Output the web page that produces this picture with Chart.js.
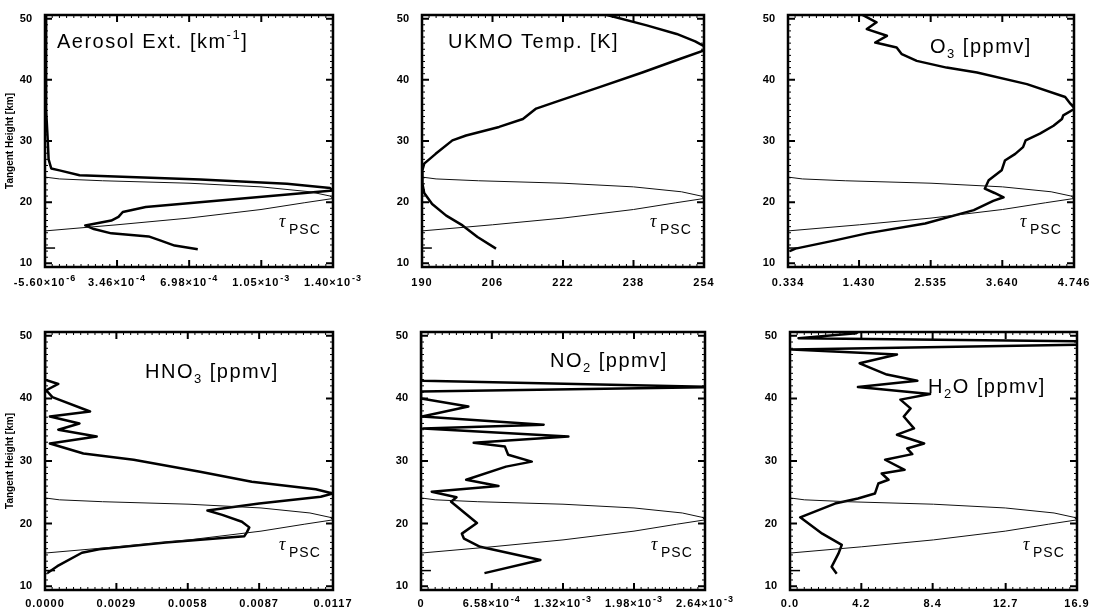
<!DOCTYPE html>
<html>
<head>
<meta charset="utf-8">
<script src="https://cdn.jsdelivr.net/npm/chart.js@4.4.1/dist/chart.umd.min.js"></script>
<style>
  body { margin: 0; width: 1095px; height: 612px; background: #fff; overflow: hidden; position: relative; }
  canvas { position: absolute; }
</style>
</head>
<body>
<canvas id="aerosol"></canvas>
<canvas id="temp"></canvas>
<canvas id="o3"></canvas>
<canvas id="hno3"></canvas>
<canvas id="no2"></canvas>
<canvas id="h2o"></canvas>
<script>
const heightTicks = [10, 20, 30, 40, 50];

// tau_PSC curve, as a fraction of each panel's x range
const tauHeights = [24.1, 23.8, 23.5, 23.1, 22.5, 21.7, 21.0, 20.6, 19.9, 18.8, 17.4, 16.3, 15.3];
const tauFraction = [0.0, 0.05, 0.2, 0.5, 0.75, 0.92, 0.99, 1.0, 0.9, 0.75, 0.5, 0.25, 0.0];
const markHeights = [12.5, 12.5];
const markFraction = [0.0, 0.035];

const aerosolHeights = [50.6, 45, 40, 35, 30, 27, 25.5, 25.2, 24.4, 23.7, 23.0, 22.3, 21.9, 19.2, 18.4, 17.6, 17.0, 16.2, 15.6, 14.9, 14.4, 13.75, 12.9, 12.3];
const aerosolValues = [0, 0, 0, 0, 8e-6, 1.2e-5, 2.5e-5, 6.5e-5, 1.63e-4, 7.53e-4, 1.175e-3, 1.386e-3, 1.40e-3, 4.86e-4, 3.74e-4, 3.53e-4, 3.18e-4, 1.91e-4, 2.33e-4, 3.18e-4, 5.0e-4, 5.56e-4, 6.27e-4, 7.4e-4];
const aerosolTicks = [-5.6e-6, 3.46e-4, 6.98e-4, 1.05e-3, 1.40e-3];
const aerosolTickLabels = ['-5.60×10^-6', '3.46×10^-4', '6.98×10^-4', '1.05×10^-3', '1.40×10^-3'];

const tempHeights = [51.0, 50.6, 48.9, 47.5, 46.3, 45.5, 44.8, 43.4, 41.2, 38.8, 36.6, 35.3, 33.6, 32.3, 30.9, 30.1, 27.9, 26.3, 25.0, 23.0, 21.5, 19.7, 17.8, 16.2, 14.3, 12.4];
const tempValues = [230, 232, 241, 247.8, 252, 254, 254, 248.5, 240, 230.3, 221.2, 215.9, 212.9, 207.5, 200, 196.9, 193.1, 190.5, 190, 190.1, 190.5, 192.3, 195.5, 199.2, 202.6, 206.8];
const tempTicks = [190, 206, 222, 238, 254];
const tempTickLabels = ['190', '206', '222', '238', '254'];

const o3Heights = [51.0, 50.8, 49.4, 48.3, 47.2, 46.1, 45.3, 44.2, 43.1, 42.0, 41.2, 39.3, 37.2, 36.1, 35.3, 34.2, 33.6, 32.5, 31.2, 30.1, 29.0, 27.9, 26.8, 25.2, 23.6, 22.2, 21.5, 20.8, 20.2, 18.7, 16.5, 14.9, 13.75, 12.4, 12.0];
const o3Values = [1.35, 1.45, 1.70, 1.55, 1.86, 1.68, 2.01, 2.09, 2.32, 2.78, 3.25, 4.02, 4.61, 4.69, 4.76, 4.58, 4.56, 4.43, 4.22, 4.00, 3.96, 3.84, 3.68, 3.63, 3.43, 3.37, 3.52, 3.66, 3.50, 3.20, 2.45, 1.55, 1.06, 0.45, 0.36];
const o3Ticks = [0.334, 1.430, 2.535, 3.640, 4.746];
const o3TickLabels = ['0.334', '1.430', '2.535', '3.640', '4.746'];

const hno3Heights = [50.6, 43.0, 42.3, 41.3, 40.2, 37.9, 37.1, 36.0, 35.0, 33.9, 32.8, 31.2, 30.2, 28.3, 26.7, 25.5, 24.8, 24.3, 23.2, 22.1, 21.4, 20.3, 19.4, 18.6, 18.0, 17.0, 15.9, 15.35, 13.2, 12.1];
const hno3Values = [0, 0, 0.00054, 0.00005, 0.0003, 0.00183, 0.0002, 0.0014, 0.00054, 0.0021, 0.0002, 0.00156, 0.0036, 0.0063, 0.0084, 0.0110, 0.0117, 0.0112, 0.0087, 0.0066, 0.0072, 0.0080, 0.0083, 0.0082, 0.0081, 0.0049, 0.0022, 0.0015, 0.0005, 0.0001];
const hno3Ticks = [0, 0.0029, 0.0058, 0.0087, 0.0117];
const hno3TickLabels = ['0.0000', '0.0029', '0.0058', '0.0087', '0.0117'];

const no2Heights = [50.6, 43.0, 42.8, 41.8, 41.1, 40.0, 38.7, 37.1, 35.8, 35.2, 33.9, 32.9, 32.3, 31.0, 29.9, 29.1, 27.0, 26.0, 25.1, 24.2, 23.5, 20.1, 18.4, 17.6, 16.3, 14.2, 12.1];
const no2Values = [0, 0, 0.00002, 0.0028, 0, 0, 0.00044, 0.00001, 0.00114, 0.00002, 0.00137, 0.00049, 0.00078, 0.00081, 0.00103, 0.00079, 0.00042, 0.00072, 0.0001, 0.00033, 0.00028, 0.00052, 0.00038, 0.0004, 0.00055, 0.00111, 0.00059];
const no2Ticks = [0, 0.000658, 0.00132, 0.00198, 0.00264];
const no2TickLabels = ['0', '6.58×10^-4', '1.32×10^-3', '1.98×10^-3', '2.64×10^-3'];

const h2oHeights = [51.0, 50.4, 49.6, 49.1, 48.6, 47.8, 47.0, 45.6, 43.8, 42.8, 41.8, 40.7, 39.8, 38.4, 37.1, 35.2, 34.2, 32.8, 32.0, 31.1, 30.2, 28.6, 28.0, 27.0, 26.4, 24.8, 24.0, 23.2, 21.0, 18.4, 16.6, 15.2, 13.1, 12.0];
const h2oValues = [4.2, 3.9, 0.5, 17.5, 17.5, 0.1, 6.3, 4.1, 5.7, 7.5, 4.0, 8.25, 6.5, 7.1, 6.7, 7.3, 6.3, 7.9, 6.9, 7.2, 5.6, 6.75, 5.4, 5.8, 5.2, 5.0, 4.0, 2.65, 0.6, 1.9, 3.05, 2.85, 2.45, 2.75];
const h2oTicks = [0.0, 4.2, 8.4, 12.7, 16.9];
const h2oTickLabels = ['0.0', '4.2', '8.4', '12.7', '16.9'];

const panels = [
  { id: 'aerosol', left: 45, top: 15, width: 288, height: 252, heights: aerosolHeights, values: aerosolValues,
    ticks: aerosolTicks, tickLabels: aerosolTickLabels, yTitle: true, labelY: 19,
    title: [['Aerosol Ext. [km', 0], ['-1', 1], [']', 0]], titleX: 12, titleY: 33 },
  { id: 'temp', left: 422, top: 15, width: 282, height: 252, heights: tempHeights, values: tempValues,
    ticks: tempTicks, tickLabels: tempTickLabels, yTitle: false, labelY: 19,
    title: [['UKMO Temp. [K]', 0]], titleX: 26, titleY: 33 },
  { id: 'o3', left: 788, top: 15, width: 286, height: 252, heights: o3Heights, values: o3Values,
    ticks: o3Ticks, tickLabels: o3TickLabels, yTitle: false, labelY: 19,
    title: [['O', 0], ['3', -1], [' [ppmv]', 0]], titleX: 142, titleY: 38 },
  { id: 'hno3', left: 45, top: 332, width: 288, height: 258, heights: hno3Heights, values: hno3Values,
    ticks: hno3Ticks, tickLabels: hno3TickLabels, yTitle: true, labelY: 17,
    title: [['HNO', 0], ['3', -1], [' [ppmv]', 0]], titleX: 100, titleY: 46 },
  { id: 'no2', left: 421, top: 332, width: 284, height: 258, heights: no2Heights, values: no2Values,
    ticks: no2Ticks, tickLabels: no2TickLabels, yTitle: false, labelY: 17,
    title: [['NO', 0], ['2', -1], [' [ppmv]', 0]], titleX: 129, titleY: 35 },
  { id: 'h2o', left: 790, top: 332, width: 287, height: 258, heights: h2oHeights, values: h2oValues,
    ticks: h2oTicks, tickLabels: h2oTickLabels, yTitle: false, labelY: 17,
    title: [['H', 0], ['2', -1], ['O [ppmv]', 0]], titleX: 138, titleY: 61 },
];

// inward IDL-style ticks, box frame, x tick labels with exponents and panel text
const panelDecor = {
  id: 'panelDecor',
  afterDatasetsDraw(chart, args, opts) {
    const { ctx, chartArea: a, scales: { x, y } } = chart;
    const xt = opts.xTicks;
    ctx.save();
    ctx.strokeStyle = '#000';
    ctx.fillStyle = '#000';

    ctx.lineWidth = 1;
    ctx.beginPath();
    for (let i = 0; i < xt.length - 1; i++) {
      for (let k = 1; k < 10; k++) {
        const px = x.getPixelForValue(xt[i] + (xt[i + 1] - xt[i]) * k / 10);
        ctx.moveTo(px, a.bottom); ctx.lineTo(px, a.bottom - 3);
        ctx.moveTo(px, a.top); ctx.lineTo(px, a.top + 3);
      }
    }
    for (let h = 10; h <= 50; h++) {
      if (h % 10 === 0) continue;
      const py = y.getPixelForValue(h);
      ctx.moveTo(a.left, py); ctx.lineTo(a.left + 3, py);
      ctx.moveTo(a.right, py); ctx.lineTo(a.right - 3, py);
    }
    ctx.stroke();

    ctx.lineWidth = 2;
    ctx.beginPath();
    xt.forEach(v => {
      const px = x.getPixelForValue(v);
      ctx.moveTo(px, a.bottom); ctx.lineTo(px, a.bottom - 7);
      ctx.moveTo(px, a.top); ctx.lineTo(px, a.top + 7);
    });
    heightTicks.forEach(v => {
      const py = y.getPixelForValue(v);
      ctx.moveTo(a.left, py); ctx.lineTo(a.left + 7, py);
      ctx.moveTo(a.right, py); ctx.lineTo(a.right - 7, py);
    });
    ctx.stroke();

    ctx.lineWidth = 2.5;
    ctx.strokeRect(a.left, a.top, a.right - a.left, a.bottom - a.top);

    ctx.textBaseline = 'alphabetic';
    ctx.textAlign = 'left';

    // x tick labels, "m×10^e" drawn with a raised exponent
    ctx.letterSpacing = '1px';
    opts.tickLabels.forEach((label, i) => {
      const [mant, expo] = label.split('^');
      ctx.font = 'bold 11px "Liberation Sans"';
      const mw = ctx.measureText(mant).width;
      ctx.font = 'bold 9px "Liberation Sans"';
      const ew = expo ? ctx.measureText(expo).width + 1 : 0;
      const sx = x.getPixelForValue(xt[i]) - (mw + ew) / 2;
      const by = a.bottom + opts.labelY;
      ctx.font = 'bold 11px "Liberation Sans"';
      ctx.fillText(mant, sx, by);
      if (expo) {
        ctx.font = 'bold 9px "Liberation Sans"';
        ctx.fillText(expo, sx + mw + 1, by - 5);
      }
    });

    let cx = a.left + opts.titleX;
    const ty = a.top + opts.titleY;
    ctx.letterSpacing = '1.5px';
    opts.title.forEach(([text, shift]) => {
      ctx.font = shift ? '13px "Liberation Sans"' : '20px "Liberation Sans"';
      ctx.fillText(text, cx, ty + (shift > 0 ? -9 : shift < 0 ? 5 : 0));
      cx += ctx.measureText(text).width;
    });

    ctx.letterSpacing = '0px';
    ctx.font = 'italic 18px "Liberation Serif"';
    ctx.fillText('τ', a.right - 54, a.bottom - 40);
    ctx.font = '14px "Liberation Sans"';
    ctx.letterSpacing = '1px';
    ctx.fillText('PSC', a.right - 44, a.bottom - 33);
    ctx.restore();
  }
};

function profileChart(p) {
  const canvas = document.getElementById(p.id);
  canvas.width = p.width + 75;
  canvas.height = p.height + 15 + 30;
  canvas.style.left = (p.left - 45) + 'px';
  canvas.style.top = (p.top - 15) + 'px';

  const xMin = p.ticks[0];
  const xMax = p.ticks[p.ticks.length - 1];
  const span = xMax - xMin;

  return new Chart(canvas, {
    type: 'scatter',
    data: {
      datasets: [
        {
          data: tauHeights.map((h, i) => ({ x: xMin + tauFraction[i] * span, y: h })),
          showLine: true,
          borderColor: '#111',
          borderWidth: 1,
          pointRadius: 0,
        },
        {
          data: markHeights.map((h, i) => ({ x: xMin + markFraction[i] * span, y: h })),
          showLine: true,
          borderColor: '#000',
          borderWidth: 1.5,
          pointRadius: 0,
        },
        {
          data: p.heights.map((h, i) => ({ x: p.values[i], y: h })),
          showLine: true,
          borderColor: '#000',
          borderWidth: 2.5,
          borderJoinStyle: 'round',
          pointRadius: 0,
        },
      ],
    },
    options: {
      responsive: false,
      animation: false,
      events: [],
      layout: { padding: { top: 15, right: 30, left: 0, bottom: 0 } },
      plugins: {
        legend: { display: false },
        tooltip: { enabled: false },
        panelDecor: {
          xTicks: p.ticks, tickLabels: p.tickLabels, labelY: p.labelY,
          title: p.title, titleX: p.titleX, titleY: p.titleY,
        },
      },
      scales: {
        x: {
          type: 'linear',
          min: xMin,
          max: xMax,
          afterBuildTicks: s => { s.ticks = p.ticks.map(v => ({ value: v })); },
          afterFit: s => { s.height = 30; s.paddingLeft = 0; s.paddingRight = 0; },
          grid: { display: false },
          border: { display: false },
          ticks: { display: false },
        },
        y: {
          type: 'linear',
          min: 9.4,
          max: 50.6,
          afterBuildTicks: s => { s.ticks = heightTicks.map(v => ({ value: v })); },
          afterFit: s => { s.width = 45; s.paddingTop = 0; s.paddingBottom = 0; },
          grid: { display: false },
          border: { display: false },
          title: {
            display: p.yTitle,
            text: 'Tangent Height [km]',
            color: '#000',
            font: { family: 'Liberation Sans', size: 10, weight: 'bold' },
            padding: { top: 4, bottom: 0 },
          },
          ticks: {
            padding: 5,
            color: '#000',
            font: { family: 'Liberation Sans', size: 11, weight: 'bold' },
            callback: v => String(v),
          },
        },
      },
    },
    plugins: [panelDecor],
  });
}

panels.forEach(profileChart);
</script>
</body>
</html>
